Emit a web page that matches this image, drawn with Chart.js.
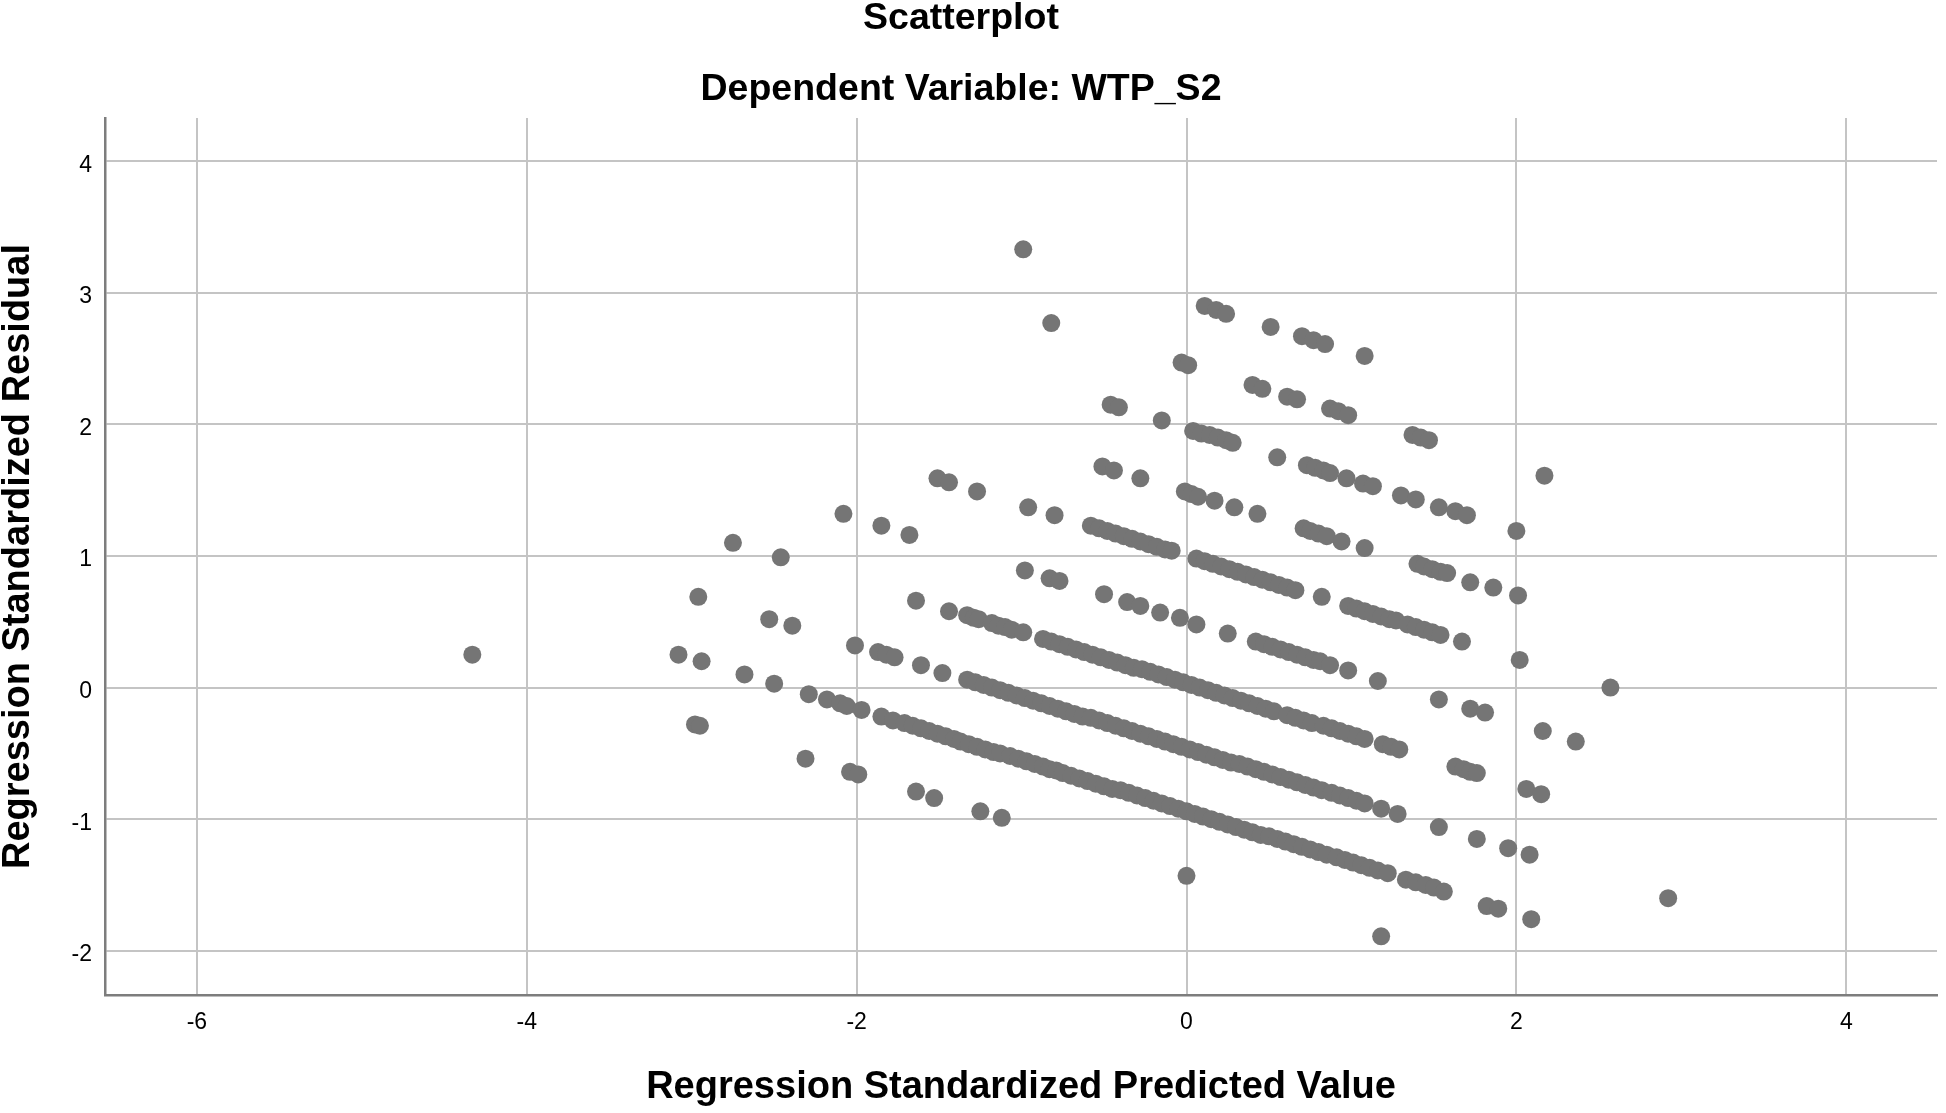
<!DOCTYPE html>
<html>
<head>
<meta charset="UTF-8" />
<title>Scatterplot</title>
<script src="https://cdn.jsdelivr.net/npm/chart.js@4.4.1/dist/chart.umd.min.js"></script>
<style>
  body { margin: 0; background: #fff; }
  canvas { display: block; }
</style>
</head>
<body>
<canvas id="chart" width="1946" height="1113"></canvas>
<script>
const chartTitle = 'Scatterplot';
const chartSubtitle = 'Dependent Variable: WTP_S2';
const xTitle = 'Regression Standardized Predicted Value';
const yTitle = 'Regression Standardized Residual';
const xTicks = [-6, -4, -2, 0, 2, 4];
const yTicks = [-2, -1, 0, 1, 2, 3, 4];

// [predicted, residual] pairs, grouped by the diagonal band they sit on
const band294 = [[-0.99, 3.33], [0.11, 2.90], [0.18, 2.87], [0.24, 2.84], [0.51, 2.74], [0.70, 2.67],
  [0.77, 2.64], [0.84, 2.61], [1.08, 2.52]];

const band245 = [[-0.82, 2.77], [-0.03, 2.47], [0.01, 2.45], [0.40, 2.30], [0.46, 2.27], [0.61, 2.21],
  [0.67, 2.19], [0.87, 2.12], [0.92, 2.10], [0.98, 2.07], [1.37, 1.92], [1.42, 1.90], [1.47, 1.88],
  [2.17, 1.61]];

const band197 = [[-0.46, 2.15], [-0.41, 2.13], [-0.15, 2.03], [0.04, 1.95], [0.09, 1.93], [0.14, 1.92],
  [0.19, 1.90], [0.24, 1.88], [0.28, 1.86], [0.55, 1.75], [0.73, 1.69], [0.78, 1.67], [0.83, 1.65],
  [0.87, 1.63], [0.97, 1.59], [1.07, 1.55], [1.13, 1.53], [1.30, 1.46], [1.39, 1.43], [1.53, 1.37],
  [1.63, 1.34], [1.70, 1.31], [2.00, 1.19]];

const band148 = [[-0.51, 1.68], [-0.44, 1.65], [-0.28, 1.59], [-0.01, 1.49], [0.03, 1.47], [0.07, 1.45],
  [0.17, 1.42], [0.29, 1.37], [0.43, 1.32], [0.71, 1.21], [0.75, 1.19], [0.80, 1.17], [0.85, 1.15],
  [0.94, 1.11], [1.08, 1.06], [1.40, 0.94], [1.44, 0.92], [1.49, 0.90], [1.54, 0.88], [1.58, 0.87],
  [1.72, 0.80], [1.86, 0.76], [2.01, 0.70]];

const band100 = [[-1.51, 1.59], [-1.44, 1.56], [-1.27, 1.49], [-0.96, 1.37], [-0.80, 1.31],
  [-0.58, 1.23], [-0.53, 1.21], [-0.48, 1.19], [-0.43, 1.17], [-0.38, 1.15], [-0.33, 1.13],
  [-0.28, 1.11], [-0.23, 1.09], [-0.18, 1.07], [-0.13, 1.05], [-0.09, 1.04],
  [0.06, 0.98], [0.11, 0.96], [0.16, 0.94], [0.21, 0.92], [0.26, 0.90], [0.31, 0.88], [0.36, 0.86],
  [0.41, 0.84], [0.46, 0.82], [0.51, 0.80], [0.56, 0.78], [0.61, 0.76], [0.66, 0.74],
  [0.82, 0.69],
  [0.98, 0.62], [1.03, 0.60], [1.08, 0.58], [1.13, 0.56], [1.18, 0.54], [1.23, 0.52], [1.27, 0.51],
  [1.34, 0.48], [1.39, 0.46], [1.44, 0.44], [1.49, 0.42], [1.54, 0.40],
  [1.67, 0.35], [2.02, 0.21], [2.57, 0.00]];

const band051 = [[-2.08, 1.32], [-1.85, 1.23], [-1.68, 1.16], [-0.98, 0.89], [-0.83, 0.83], [-0.77, 0.81],
  [-0.50, 0.71], [-0.36, 0.65], [-0.28, 0.62], [-0.16, 0.57], [-0.04, 0.53], [0.06, 0.48], [0.25, 0.41],
  [0.42, 0.35], [0.47, 0.33], [0.52, 0.31], [0.57, 0.29], [0.62, 0.27], [0.67, 0.25], [0.72, 0.23],
  [0.77, 0.21], [0.81, 0.20],
  [0.87, 0.17], [0.98, 0.13], [1.16, 0.05], [1.53, -0.09], [1.72, -0.16], [1.81, -0.19], [2.16, -0.33],
  [2.36, -0.41]];

const band003 = [[-2.75, 1.10], [-2.46, 0.99], [-1.64, 0.66], [-1.44, 0.58], [-1.33, 0.55], [-1.29, 0.53],
  [-1.26, 0.52], [-1.18, 0.49], [-1.14, 0.47], [-1.10, 0.46], [-1.06, 0.44], [-0.99, 0.42],
  [-0.87, 0.37], [-0.82, 0.35], [-0.77, 0.33], [-0.72, 0.31], [-0.67, 0.29], [-0.62, 0.27], [-0.57, 0.25],
  [-0.52, 0.23], [-0.47, 0.21], [-0.42, 0.19], [-0.37, 0.17], [-0.32, 0.15], [-0.27, 0.14], [-0.22, 0.12],
  [-0.17, 0.10], [-0.12, 0.08], [-0.07, 0.06], [-0.02, 0.04], [0.03, 0.02], [0.08, 0.00], [0.13, -0.02],
  [0.18, -0.04], [0.23, -0.06], [0.28, -0.08], [0.33, -0.10], [0.38, -0.12], [0.43, -0.14], [0.48, -0.16],
  [0.53, -0.18],
  [0.61, -0.21], [0.66, -0.23], [0.71, -0.25], [0.76, -0.27],
  [0.83, -0.29], [0.88, -0.31], [0.93, -0.33], [0.98, -0.35], [1.03, -0.37], [1.08, -0.39],
  [1.19, -0.43], [1.24, -0.45], [1.29, -0.47],
  [1.63, -0.60], [1.68, -0.62], [1.72, -0.64], [1.76, -0.65],
  [2.06, -0.77], [2.15, -0.81]];

const bandN046 = [[-2.96, 0.69], [-2.53, 0.52], [-2.39, 0.47], [-2.01, 0.32], [-1.87, 0.27], [-1.82, 0.25],
  [-1.77, 0.23], [-1.61, 0.17], [-1.48, 0.11],
  [-1.33, 0.06], [-1.28, 0.04], [-1.23, 0.02], [-1.18, 0.00], [-1.13, -0.02], [-1.08, -0.04], [-1.03, -0.06],
  [-0.98, -0.08], [-0.93, -0.10], [-0.88, -0.12], [-0.83, -0.14], [-0.78, -0.16], [-0.73, -0.18],
  [-0.68, -0.20], [-0.63, -0.22], [-0.58, -0.23], [-0.53, -0.25], [-0.48, -0.27], [-0.43, -0.29],
  [-0.38, -0.31], [-0.33, -0.33], [-0.28, -0.35], [-0.23, -0.37], [-0.18, -0.39], [-0.13, -0.41],
  [-0.08, -0.43], [-0.03, -0.45], [0.02, -0.47], [0.07, -0.49], [0.12, -0.51], [0.17, -0.53], [0.22, -0.55],
  [0.27, -0.57], [0.32, -0.58], [0.37, -0.60], [0.42, -0.62], [0.47, -0.64], [0.52, -0.66], [0.57, -0.68],
  [0.62, -0.70], [0.67, -0.72], [0.72, -0.74], [0.77, -0.76], [0.82, -0.78],
  [0.88, -0.80], [0.93, -0.82], [0.98, -0.84], [1.03, -0.86], [1.08, -0.88],
  [1.18, -0.92], [1.28, -0.96], [1.53, -1.06], [1.76, -1.15], [1.95, -1.22], [2.08, -1.27], [2.92, -1.60]];

const bandN094 = [[-3.08, 0.25], [-2.94, 0.20], [-2.68, 0.10], [-2.50, 0.03], [-2.29, -0.05], [-2.18, -0.09],
  [-2.10, -0.12], [-2.06, -0.14], [-1.97, -0.17], [-1.85, -0.22], [-1.78, -0.25],
  [-1.71, -0.27], [-1.66, -0.29], [-1.61, -0.31], [-1.56, -0.33], [-1.51, -0.35], [-1.46, -0.37],
  [-1.41, -0.39], [-1.37, -0.41],
  [-1.32, -0.43], [-1.27, -0.45], [-1.22, -0.47], [-1.17, -0.49], [-1.13, -0.50],
  [-1.07, -0.52], [-1.02, -0.54], [-0.97, -0.56], [-0.92, -0.58], [-0.87, -0.60], [-0.83, -0.62], [-0.79, -0.63],
  [-0.75, -0.65], [-0.70, -0.67], [-0.65, -0.69], [-0.60, -0.71], [-0.55, -0.73], [-0.50, -0.75],
  [-0.45, -0.77], [-0.40, -0.78], [-0.35, -0.80], [-0.30, -0.82], [-0.25, -0.84], [-0.20, -0.86],
  [-0.15, -0.88], [-0.10, -0.90], [-0.05, -0.92], [0.00, -0.94], [0.05, -0.96], [0.10, -0.98], [0.15, -1.00],
  [0.20, -1.02], [0.25, -1.04], [0.30, -1.06], [0.35, -1.08], [0.40, -1.10], [0.45, -1.12], [0.50, -1.13],
  [0.55, -1.15], [0.60, -1.17], [0.65, -1.19], [0.70, -1.21], [0.75, -1.23], [0.80, -1.25], [0.85, -1.27],
  [0.91, -1.29], [0.96, -1.31], [1.01, -1.33], [1.06, -1.35], [1.11, -1.37], [1.16, -1.39], [1.22, -1.41],
  [1.33, -1.46], [1.39, -1.48], [1.45, -1.50], [1.50, -1.52], [1.56, -1.55],
  [1.82, -1.66], [1.89, -1.68], [2.09, -1.76]];

const bandN143 = [[-4.33, 0.25], [-2.98, -0.28], [-2.95, -0.29], [-2.31, -0.54], [-2.04, -0.64], [-1.99, -0.66],
  [-1.64, -0.79], [-1.53, -0.84], [-1.25, -0.94], [-1.12, -0.99], [0.00, -1.43], [1.18, -1.89]];

const allPoints = [].concat(band294, band245, band197, band148, band100, band051,
  band003, bandN046, bandN094, bandN143).map(p => ({ x: p[0], y: p[1] }));

Chart.defaults.font.family = '"Liberation Sans", Arial, sans-serif';
Chart.defaults.color = '#000';

// the two heading lines sit a little left of the canvas centre, so draw them here
const headings = {
  id: 'headings',
  afterDraw(chart) {
    const ctx = chart.ctx;
    ctx.save();
    ctx.fillStyle = '#000';
    ctx.font = 'bold 37.5px "Liberation Sans", Arial, sans-serif';
    ctx.textAlign = 'center';
    ctx.textBaseline = 'alphabetic';
    ctx.fillText(chartTitle, 961, 29);
    ctx.fillText(chartSubtitle, 961, 100);
    ctx.restore();
  }
};

const gridStyle = { color: '#c4c4c4', lineWidth: 2, drawTicks: false };
const axisLine = { color: '#7d7d7d', width: 2.5 };
const titleFont = { size: 38, weight: 'bold', lineHeight: 1 };

new Chart(document.getElementById('chart'), {
  type: 'scatter',
  data: {
    datasets: [{
      data: allPoints,
      pointBackgroundColor: '#757575',
      pointBorderWidth: 0,
      pointRadius: 9,
      pointHoverRadius: 9
    }]
  },
  options: {
    responsive: false,
    animation: false,
    layout: { padding: { top: 118, right: 4, left: 0, bottom: 0 } },
    plugins: {
      legend: { display: false },
      tooltip: { enabled: false },
      title: { display: false }
    },
    scales: {
      x: {
        type: 'linear',
        min: -6.557,
        max: 4.55,
        afterBuildTicks: s => { s.ticks = xTicks.map(v => ({ value: v })); },
        afterFit: s => { s.height = 118; },
        grid: gridStyle,
        border: axisLine,
        ticks: { padding: 14, font: { size: 23 }, maxRotation: 0 },
        title: { display: true, text: xTitle, font: titleFont, padding: { top: 0, bottom: 6 } }
      },
      y: {
        type: 'linear',
        min: -2.336,
        max: 4.328,
        afterBuildTicks: s => { s.ticks = yTicks.map(v => ({ value: v })); },
        afterFit: s => { s.width = 105; },
        grid: gridStyle,
        border: axisLine,
        ticks: { padding: 13, font: { size: 23 }, labelOffset: 4 },
        title: { display: true, text: yTitle, font: titleFont, padding: { top: 0, bottom: 0 } }
      }
    }
  },
  plugins: [headings]
});
</script>
</body>
</html>
